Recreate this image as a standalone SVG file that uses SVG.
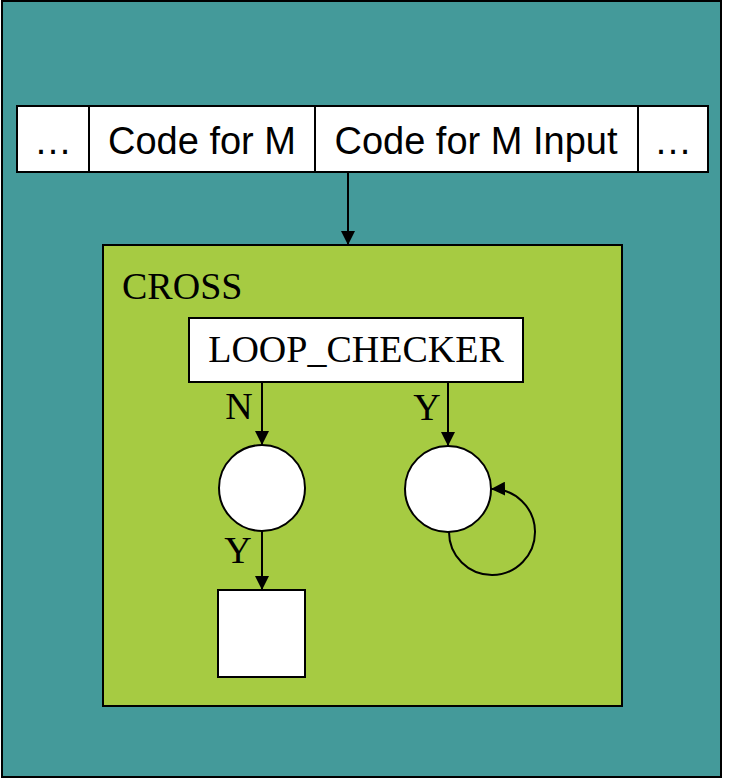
<svg xmlns="http://www.w3.org/2000/svg" width="730" height="782" viewBox="0 0 730 782">
<defs>
<style>
.box{stroke:#000;stroke-width:2}
.w{fill:#fff;stroke:#000;stroke-width:2}
.sans{font-family:"Liberation Sans",Arial,sans-serif;font-size:38px;fill:#000}
.serif{font-family:"Liberation Serif","Times New Roman",serif;font-size:38px;fill:#000}
.edge{fill:none;stroke:#000;stroke-width:2}
</style>
<marker id="ah" viewBox="0 0 14 14" refX="14" refY="7" markerWidth="14" markerHeight="14" markerUnits="userSpaceOnUse" orient="auto">
<path d="M0,0 L14,7 L0,14 Z" fill="#000"/>
</marker>
</defs>
<g id="outer">
<rect x="2" y="1" width="719" height="776" fill="#449A9A" class="box"/>
</g>
<g id="tape">
<rect x="17" y="106" width="691" height="66" class="w"/>
<line x1="89" y1="106" x2="89" y2="172" class="edge"/>
<line x1="315" y1="106" x2="315" y2="172" class="edge"/>
<line x1="638" y1="106" x2="638" y2="172" class="edge"/>
<text x="53" y="154" class="sans" text-anchor="middle">…</text>
<text x="202" y="154" class="sans" text-anchor="middle">Code for M</text>
<text x="476" y="154" class="sans" text-anchor="middle">Code for M Input</text>
<text x="673" y="154" class="sans" text-anchor="middle">…</text>
</g>
<g id="cross">
<rect x="103" y="245" width="519" height="461" fill="#A6CB42" class="box"/>
<text x="122" y="299" class="serif">CROSS</text>
</g>
<g id="loop_checker">
<rect x="189" y="318" width="334" height="64" class="w"/>
<text x="356" y="362" class="serif" text-anchor="middle">LOOP_CHECKER</text>
</g>
<g id="stateN">
<circle cx="262" cy="488" r="43" class="w"/>
</g>
<g id="stateY">
<circle cx="448" cy="489" r="43" class="w"/>
</g>
<g id="halt">
<rect x="218" y="590" width="87" height="87" class="w"/>
</g>
<g id="connectors">
<line x1="348" y1="172" x2="348" y2="245" class="edge" marker-end="url(#ah)"/>
<line x1="262" y1="382" x2="262" y2="445" class="edge" marker-end="url(#ah)"/>
<line x1="448" y1="382" x2="448" y2="446" class="edge" marker-end="url(#ah)"/>
<line x1="262" y1="531" x2="262" y2="590" class="edge" marker-end="url(#ah)"/>
<path d="M449,532 A43,43 0 1 0 491,489" class="edge" marker-end="url(#ah)"/>
<text x="239" y="419" class="serif" text-anchor="middle">N</text>
<text x="427" y="420" class="serif" text-anchor="middle">Y</text>
<text x="238" y="563" class="serif" text-anchor="middle">Y</text>
</g>
</svg>
